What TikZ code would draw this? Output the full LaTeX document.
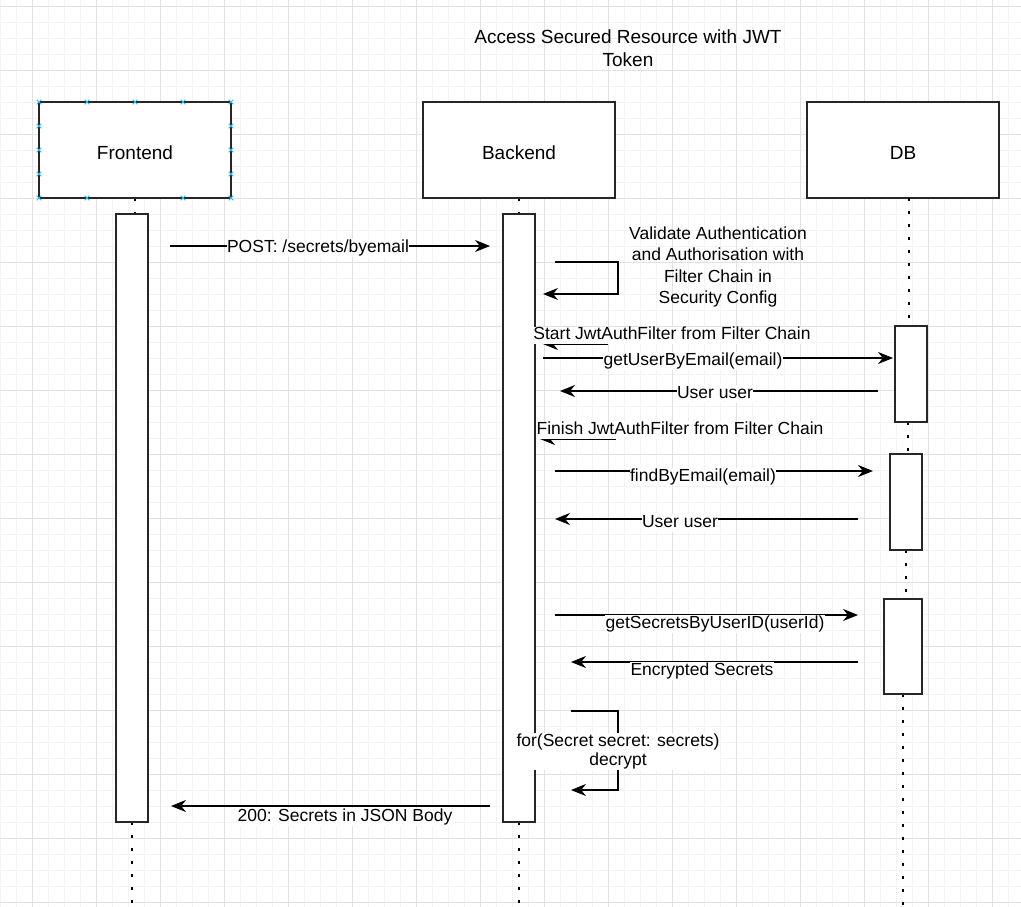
\documentclass[tikz,border=0pt]{standalone}
\usepackage{fontspec}
\setmainfont{Liberation Sans}
\usetikzlibrary{arrows.meta}
\definecolor{gridmajor}{HTML}{E2E2E2}
\definecolor{gridminor}{HTML}{F3F3F3}
\definecolor{selblue}{HTML}{29B6F2}
\tikzset{
 lifebox/.style={draw=black!85, line width=1.6pt, fill=white, minimum width=192pt, minimum height=96pt, inner sep=0pt, text height=19.5pt, text depth=0pt, font=\fontsize{19}{23}\selectfont},
 actbox/.style={draw=black!85, line width=1.5pt, fill=white, minimum width=32pt, inner sep=0pt},
 lifedots/.style={line width=2.6pt, dash pattern=on 2.6pt off 10.4pt},
 msg/.style={line width=1.3pt, -{Stealth[length=15pt,width=12pt]}},
 thinmsg/.style={line width=0.9pt, -{Stealth[length=15pt,width=12pt]}},
 lbl/.style={fill=white, inner sep=0.5pt, text height=12.5pt, text depth=3.8pt, yshift=-2pt},
 toplbl/.style={fill=white, inner sep=0pt, text height=13pt, text depth=4pt, anchor=south},
 multilbl/.style={align=center, inner sep=1pt, font=\fontsize{17.5}{21.3}\selectfont},
 selmark/.style={selblue, line width=0.8pt},
}
\begin{document}
\begin{tikzpicture}[x=1pt,y=-1pt,font=\fontsize{17.5}{21}\selectfont]
\useasboundingbox (0,0) rectangle (1021,907);
\fill[white] (0,0) rectangle (1021,907);
% grid
\foreach \x in {0,16,...,1020} \draw[gridminor,line width=0.8pt] (\x,0) -- (\x,907);
\foreach \y in {6,22,...,906} \draw[gridminor,line width=0.8pt] (0,\y) -- (1021,\y);
\foreach \x in {32,96,...,1020} \draw[gridmajor,line width=0.9pt] (\x,0) -- (\x,907);
\foreach \y in {6,70,...,906} \draw[gridmajor,line width=0.9pt] (0,\y) -- (1021,\y);

% title
\node[align=center, font=\fontsize{19}{23}\selectfont] (title) at (628,48) {Access Secured Resource with JWT\\Token};

% lifeline heads
\node[lifebox] (fe) at (135,150) {Frontend};
\node[lifebox] (be) at (519,150) {Backend};
\node[lifebox] (db) at (903,150) {DB};

% dotted lifelines
\coordinate (fetop) at (135,214);
\coordinate (betop) at (519,214);
\coordinate (febot) at (132,907);
\coordinate (bebot) at (519,907);
\coordinate (dbbot) at (903,907);
\draw[lifedots] (fe.south) -- (fetop);
\draw[lifedots] (be.south) -- (betop);
\draw[lifedots] (132,822) -- (febot);
\draw[lifedots] (519,822) -- (bebot);
\draw[lifedots] (909,198) -- (909,326);
\draw[lifedots] (908,422) -- (908,454);
\draw[lifedots] (906,550) -- (906,599);
\draw[lifedots] (903,694) -- (dbbot);

% activation bars
\node[actbox, minimum height=608pt] (feact) at (132,518) {};
\node[actbox, minimum height=608pt] (beact) at (519,518) {};
\node[actbox, minimum height=96pt] (dbact1) at (911,374) {};
\node[actbox, minimum height=96pt] (dbact2) at (906,502) {};
\node[actbox, minimum height=95pt, minimum width=38pt] (dbact3) at (903,646.5) {};

% selection markers on Frontend
\foreach \p in {(39,102),(87,102),(135,102),(183,102),(231,102),
                (39,198),(87,198),(183,198),(231,198),
                (39,126),(39,150),(39,174),(231,126),(231,150),(231,174)}
  \draw[selmark] \p ++(-2.3,-2.3) -- ++(4.6,4.6) ++(0,-4.6) -- ++(-4.6,4.6);

% message 1
\coordinate (m1a) at (170,246); \coordinate (m1b) at (490,246);
\draw[msg] (m1a) -- (m1b);
\node[lbl] (m1l) at (318,246) {POST: /secrets/byemail};

% self call: validate
\coordinate (s1a) at (555,262); \coordinate (s1b) at (618,262);
\coordinate (s1c) at (618,294); \coordinate (s1d) at (543,294);
\draw[msg] (s1a) -- (s1b) -- (s1c) -- (s1d);
\node[multilbl] (s1l) at (718,267) {Validate Authentication\\and Authorisation with\\Filter Chain in\\Security Config};

% start filter
\coordinate (sfa) at (608,344); \coordinate (sfb) at (543,344);
\draw[thinmsg] (sfa) -- (sfb);
\node[toplbl] (sfl) at (672,344) {Start JwtAuthFilter from Filter Chain};

% getUserByEmail
\coordinate (m2a) at (543,358); \coordinate (m2b) at (893,358);
\draw[msg] (m2a) -- (m2b);
\node[lbl] (m2l) at (693,359) {getUserByEmail(email)};

% User user
\coordinate (m3a) at (878,391); \coordinate (m3b) at (560,391);
\draw[msg] (m3a) -- (m3b);
\node[lbl] (m3l) at (715,392) {User user};

% finish filter
\coordinate (ffa) at (616,439); \coordinate (ffb) at (540,439);
\draw[thinmsg] (ffa) -- (ffb);
\node[toplbl] (ffl) at (680,439) {Finish JwtAuthFilter from Filter Chain};

% findByEmail
\coordinate (m4a) at (555,471); \coordinate (m4b) at (873,471);
\draw[msg] (m4a) -- (m4b);
\node[lbl] (m4l) at (703,475) {findByEmail(email)};

% User user 2
\coordinate (m5a) at (858,519); \coordinate (m5b) at (555,519);
\draw[msg] (m5a) -- (m5b);
\node[lbl] (m5l) at (680,521) {User user};

% getSecretsByUserID
\coordinate (m6a) at (555,615); \coordinate (m6b) at (858,615);
\draw[msg] (m6a) -- (m6b);
\node[lbl] (m6l) at (715,622) {getSecretsByUserID(userId)};

% Encrypted Secrets
\coordinate (m7a) at (858,662); \coordinate (m7b) at (571,662);
\draw[msg] (m7a) -- (m7b);
\node[lbl] (m7l) at (702,669) {Encrypted Secrets};

% self call: decrypt loop
\coordinate (s2a) at (571,711); \coordinate (s2b) at (618,711);
\coordinate (s2c) at (618,790); \coordinate (s2d) at (571,790);
\draw[msg] (s2a) -- (s2b) -- (s2c) -- (s2d);
\node[multilbl, fill=white, font=\fontsize{17.5}{19.5}\selectfont] (s2l) at (618,751.5) {for(Secret secret: secrets)\\decrypt};

% response
\coordinate (m8a) at (490,806); \coordinate (m8b) at (171,806);
\draw[msg] (m8a) -- (m8b);
\node[lbl] (m8l) at (345,815) {200: Secrets in JSON Body};
\end{tikzpicture}
\end{document}
